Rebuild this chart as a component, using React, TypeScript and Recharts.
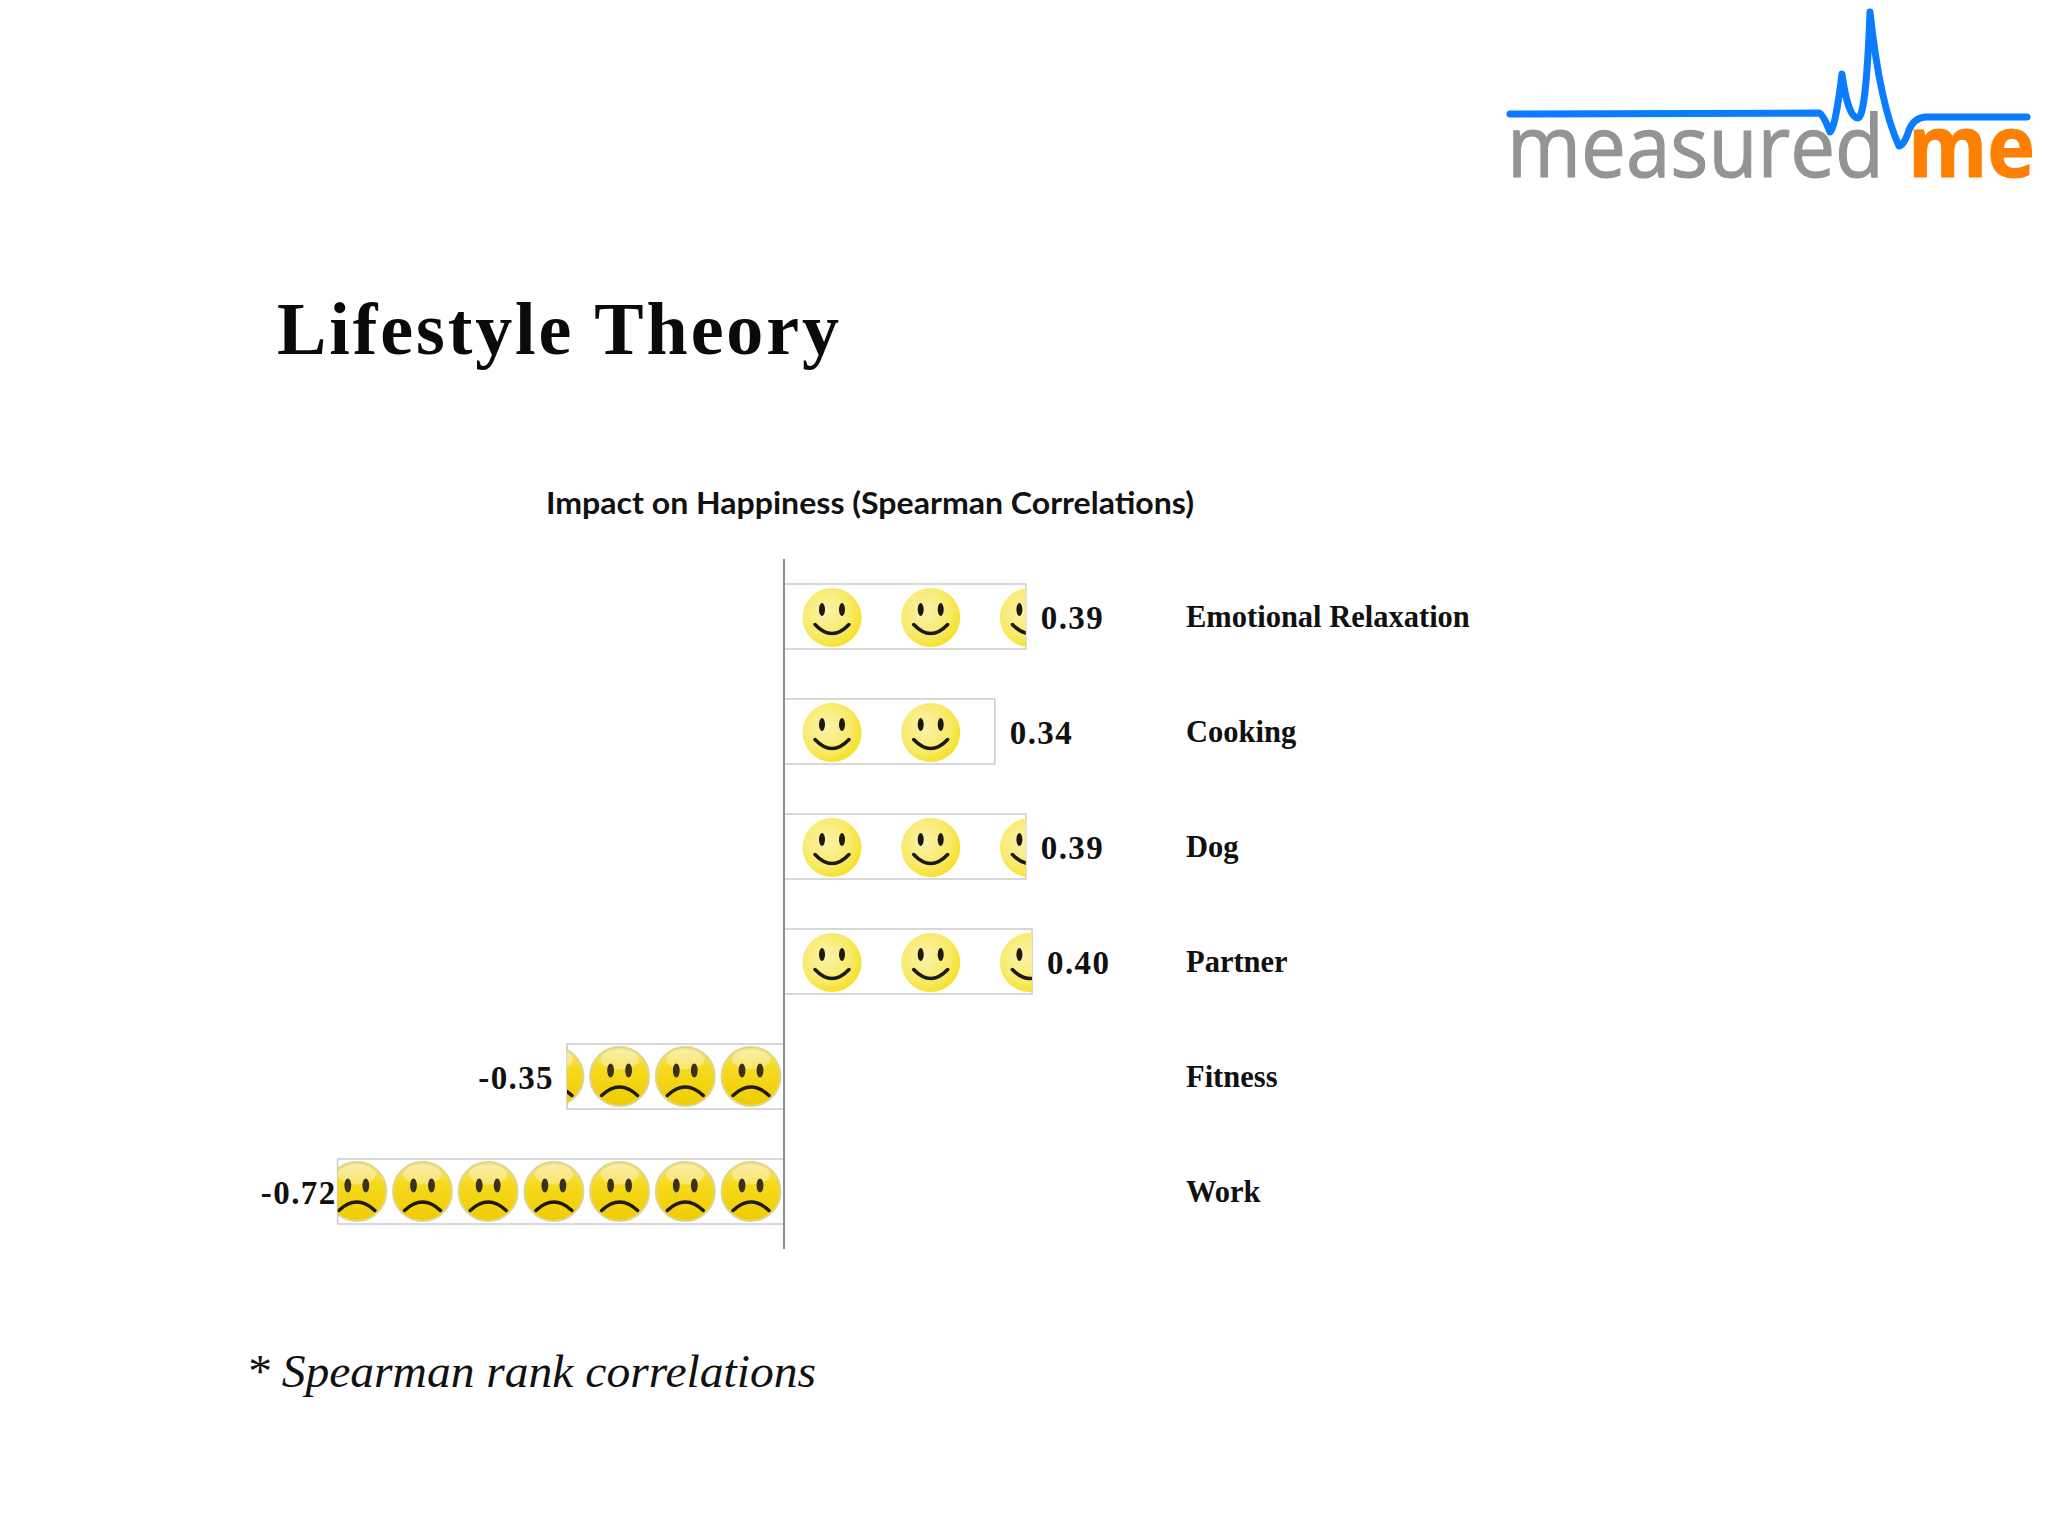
import React from "react";
import { BarChart, Bar, XAxis, YAxis, ReferenceLine, LabelList } from "recharts";

const categories = ["Emotional Relaxation", "Cooking", "Dog", "Partner", "Fitness", "Work"];
const correlations = [0.39, 0.34, 0.39, 0.4, -0.35, -0.72];

const data = categories.map((name, i) => ({ name, value: correlations[i] }));

const serif = "'Liberation Serif', serif";
const UNITS = { happyStep: 98.7, happyStart: 48, sadStep: 65.7, sadStart: 33 };

function Smiley({ cx, cy }: { cx: number; cy: number }) {
  return (
    <g>
      <circle cx={cx} cy={cy + 1} r={29.5} fill="url(#happyFace)" />
      <ellipse cx={cx - 10} cy={cy - 7} rx={3} ry={6.5} fill="#1c1a10" />
      <ellipse cx={cx + 10} cy={cy - 7} rx={3} ry={6.5} fill="#1c1a10" />
      <path
        d={`M ${cx - 17} ${cy + 8} Q ${cx} ${cy + 26} ${cx + 17} ${cy + 8}`}
        fill="none"
        stroke="#1c1a10"
        strokeWidth={3.5}
        strokeLinecap="round"
      />
    </g>
  );
}

function Frowny({ cx, cy }: { cx: number; cy: number }) {
  return (
    <g>
      <circle cx={cx} cy={cy} r={29.5} fill="url(#sadFace)" stroke="#ddd690" strokeWidth={2} />
      <ellipse cx={cx} cy={cy - 17} rx={19} ry={10} fill="#fff" opacity={0.35} />
      <ellipse cx={cx - 9} cy={cy - 6} rx={3.4} ry={7} fill="#3a3218" />
      <ellipse cx={cx + 9} cy={cy - 6} rx={3.4} ry={7} fill="#3a3218" />
      <path
        d={`M ${cx - 18} ${cy + 19} Q ${cx} ${cy + 2} ${cx + 18} ${cy + 19}`}
        fill="none"
        stroke="#1f1a08"
        strokeWidth={3.5}
        strokeLinecap="round"
      />
    </g>
  );
}

// picture-stacked bar: the faces repeat from the axis outwards and get cut off at the bar end
function FaceBar(props: any) {
  const { x, y, width, height, index, payload } = props;
  const left = Math.min(x, x + width);
  const w = Math.abs(width);
  const right = left + w;
  const cy = y + height / 2;
  const negative = payload.value < 0;
  const faces: React.ReactNode[] = [];
  if (negative) {
    for (let cx = right - UNITS.sadStart; cx + 30 > left; cx -= UNITS.sadStep) {
      faces.push(<Frowny key={cx} cx={cx} cy={cy} />);
    }
  } else {
    for (let cx = left + UNITS.happyStart; cx - 30 < right; cx += UNITS.happyStep) {
      faces.push(<Smiley key={cx} cx={cx} cy={cy} />);
    }
  }
  const clipId = `bar-clip-${index}`;
  return (
    <g>
      <clipPath id={clipId}>
        <rect x={left} y={y} width={w} height={height} />
      </clipPath>
      <rect x={left} y={y} width={w} height={height} fill="#fff" stroke="#cbcbcb" strokeWidth={1.5} />
      <g clipPath={`url(#${clipId})`}>{faces}</g>
    </g>
  );
}

function ValueLabel(props: any) {
  const { x, y, width, height, value } = props;
  const left = Math.min(x, x + width);
  const right = left + Math.abs(width);
  const negative = value < 0;
  // the -0.72 label sits right up against its bar in the original
  const gap = negative ? (value < -0.5 ? 1 : 13) : 15;
  return (
    <text
      x={negative ? left - gap : right + gap}
      y={y + height / 2 + 12}
      textAnchor={negative ? "end" : "start"}
      fontFamily={serif}
      fontWeight="bold"
      fontSize={33}
      letterSpacing={1.4}
      fill="#111"
    >
      {value.toFixed(2)}
    </text>
  );
}

function Logo() {
  return (
    <g>
      <text
        x={1507}
        y={177}
        fontFamily="'Open Sans', sans-serif"
        fontSize={86}
        fill="#949494"
        stroke="#949494"
        strokeWidth={1.2}
        textLength={377}
        lengthAdjust="spacingAndGlyphs"
      >
        measured
      </text>
      <text
        x={1908}
        y={177}
        fontFamily="'Open Sans', sans-serif"
        fontWeight="bold"
        fontSize={86}
        fill="#ff7f00"
        stroke="#ff7f00"
        strokeWidth={1}
        textLength={127}
        lengthAdjust="spacingAndGlyphs"
      >
        me
      </text>
      <path
        d="M 1510 114 L 1819 113 Q 1823 114 1830 132 Q 1835 130 1842 74 Q 1848 118 1858 118 Q 1866 118 1870 12 Q 1880 105 1899 146 Q 1904 146 1909 130 Q 1914 118 1925 117 L 2027 117"
        fill="none"
        stroke="#0a7cff"
        strokeWidth={7}
        strokeLinecap="round"
        strokeLinejoin="round"
      />
    </g>
  );
}

export default function App() {
  return (
    <div style={{ position: "absolute", left: 0, top: 0, width: 2048, height: 1536, background: "#fff", overflow: "hidden" }}>
      <svg width={2048} height={1536} style={{ position: "absolute", left: 0, top: 0 }}>
        <Logo />
        <text
          x={277}
          y={354}
          fontFamily={serif}
          fontWeight="bold"
          fontSize={74}
          fill="#0a0a0a"
          textLength={562}
          lengthAdjust="spacing"
        >
          Lifestyle Theory
        </text>
        <text
          x={546}
          y={514}
          fontFamily="Lato, sans-serif"
          fontWeight="bold"
          fontSize={30}
          fill="#111"
          textLength={648}
          lengthAdjust="spacingAndGlyphs"
        >
          Impact on Happiness (Spearman Correlations)
        </text>
        <text
          x={246}
          y={1387}
          fontFamily={serif}
          fontStyle="italic"
          fontSize={47}
          fill="#111"
          textLength={570}
          lengthAdjust="spacingAndGlyphs"
        >
          * Spearman rank correlations
        </text>
      </svg>
      <div style={{ position: "absolute", left: 0, top: 0 }}>
        <BarChart
          width={2048}
          height={1536}
          data={data}
          layout="vertical"
          margin={{ top: 559, right: 0, bottom: 287, left: 288 }}
        >
          <defs>
            <radialGradient id="happyFace" cx="40%" cy="40%" r="65%">
              <stop offset="0%" stopColor="#fbf3ac" />
              <stop offset="65%" stopColor="#f8ea6a" />
              <stop offset="100%" stopColor="#f5e020" />
            </radialGradient>
            <linearGradient id="sadFace" x1="0" y1="0" x2="0" y2="1">
              <stop offset="0%" stopColor="#f5e68a" />
              <stop offset="35%" stopColor="#f6da20" />
              <stop offset="100%" stopColor="#f0cc00" />
            </linearGradient>
          </defs>
          <XAxis type="number" domain={[-0.8, 0.65]} hide />
          <YAxis
            type="category"
            dataKey="name"
            orientation="right"
            width={861}
            axisLine={false}
            tickLine={false}
            tickSize={0}
            tickMargin={0}
            interval={0}
            dx={-1}
            tick={{ fontFamily: serif, fontWeight: "bold", fontSize: 30.5, fill: "#111", textAnchor: "start" }}
          />
          <ReferenceLine x={0} stroke="#8f8f8f" strokeWidth={2} />
          <Bar dataKey="value" barSize={65} shape={FaceBar} isAnimationActive={false}>
            <LabelList dataKey="value" content={ValueLabel} />
          </Bar>
        </BarChart>
      </div>
    </div>
  );
}
